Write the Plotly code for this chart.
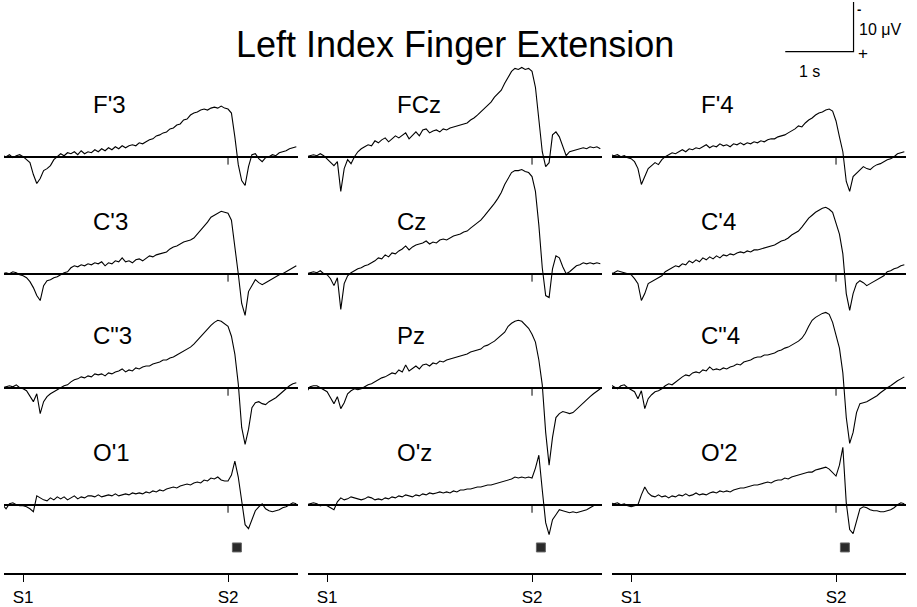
import numpy as np
import plotly.graph_objects as go

# ---------------- data ----------------
# time axis (s), S1 at 0 s, S2 at 3 s
t = np.round(np.arange(-0.30, 4.0001, 0.05), 2)

S1_TIME = 0.0
S2_TIME = 3.0
RESPONSE_TIME = 3.13
stim_ticks = [S1_TIME, S2_TIME]
stim_labels = ["S1", "S2"]

channel_names = [["F'3", "FCz", "F'4"],
                 ["C'3", "Cz", "C'4"],
                 ['C"3', "Pz", 'C"4'],
                 ["O'1", "O'z", "O'2"]]

# amplitudes in microvolts (negative plotted upward)
F3 = [-0.2, 0.0, -0.4, 0.2, -0.2, -0.4,
      0.0, 0.6, 1.2, 3.6, 5.4, 4.4, 2.8, 2.4, 1.8, 0.6, 0.0, -0.6, -0.2, -0.8, -0.6, -1.0, -0.4, -1.2, -0.6, -1.0,
      -0.8, -1.4, -1.0, -1.6, -1.2, -1.8, -1.4, -2.0, -1.6, -2.2, -1.8, -2.2, -2.4, -2.2, -2.8, -2.6, -3.0, -3.4, -3.6, -4.2,
      -4.4, -4.8, -5.0, -5.6, -5.8, -6.4, -6.6, -7.4, -7.6, -8.4, -8.8, -9.0, -9.4, -9.6, -9.4, -9.8, -10.0, -9.8, -10.2, -9.8,
      -9.6, -8.8, -4.0, 1.6, 4.8, 5.8, 2.0, -0.4, -0.6, 0.4, 1.0, 0.2, 0.0, -0.4, -0.2, -0.8, -1.0, -1.2, -1.6, -1.8, -2.0]
FCz = [0.0, -0.2, -0.4, -0.2, -0.6, -0.2,
       0.4, 1.2, 1.8, 1.0, 7.0, 2.4, 0.6, 1.4, 0.0, -1.0, -1.6, -2.0, -2.4, -2.2, -3.2, -2.8, -3.4, -3.8, -3.0, -3.6,
       -4.2, -3.8, -4.4, -4.8, -3.6, -4.4, -5.0, -4.2, -5.4, -5.6, -4.8, -5.2, -5.4, -5.0, -5.6, -5.4, -5.8, -6.0, -6.2, -6.4,
       -6.6, -6.8, -7.4, -7.8, -8.4, -9.0, -9.6, -10.4, -11.0, -12.0, -12.6, -13.4, -14.8, -16.0, -17.2, -17.8, -17.6, -18.0, -17.6, -17.8,
       -17.2, -14.0, -7.0, -1.0, 2.0, 1.2, -4.4, -5.0, -4.0, -2.0, -0.2, -1.0, -1.2, -1.4, -1.6, -1.8, -1.6, -2.0, -1.8, -2.0, -1.6]
F4 = [-0.4, -0.2, -0.4, 0.0, -0.2, 0.2,
      0.4, 1.0, 2.4, 5.6, 4.0, 2.4, 1.8, 1.2, 1.6, 0.6, 0.0, -0.4, -0.8, -0.6, -1.0, -1.4, -1.0, -1.6, -1.4, -1.8,
      -1.6, -2.0, -2.4, -1.8, -2.2, -2.0, -2.6, -2.2, -2.4, -2.0, -2.6, -2.4, -2.8, -2.4, -2.8, -2.6, -3.0, -2.8, -3.2, -3.0,
      -3.4, -3.6, -3.6, -4.0, -4.2, -4.4, -4.8, -5.2, -5.6, -6.2, -6.0, -6.8, -7.4, -7.8, -8.4, -8.8, -9.0, -9.4, -9.6, -9.2,
      -7.2, -4.0, -1.0, 5.0, 7.0, 4.0, 3.4, 2.8, 2.0, 2.4, 2.6, 2.0, 1.6, 1.4, 1.0, 0.6, 0.4, 0.0, -0.6, -0.8, -1.0]
C3 = [0.0, -0.2, 0.0, -0.4, -0.2, 0.2,
      0.4, 0.8, 1.6, 2.8, 4.4, 5.4, 2.4, 1.4, 1.2, 0.8, 0.6, 0.2, -0.2, -0.4, -1.2, -1.6, -1.4, -1.8, -1.6, -2.0,
      -1.8, -2.2, -2.0, -2.4, -1.6, -2.2, -2.0, -2.6, -2.4, -3.2, -2.4, -2.6, -2.2, -2.8, -3.0, -2.6, -3.2, -3.6, -3.4, -3.8,
      -4.0, -4.2, -4.4, -5.0, -5.4, -5.6, -6.0, -6.4, -6.6, -6.8, -7.2, -8.0, -8.8, -9.4, -10.4, -11.4, -11.8, -12.2, -12.6, -12.4,
      -12.2, -10.8, -5.8, 0.0, 6.0, 8.4, 3.6, 2.4, 1.2, 1.8, 2.2, 1.8, 1.4, 1.0, 0.6, 0.2, 0.0, -0.4, -0.8, -1.2, -1.6]
Cz = [0.0, -0.2, -0.4, -0.2, -0.6, 0.0,
      0.2, 1.0, 2.4, 0.8, 7.2, 2.0, 0.4, -0.2, -0.6, -1.0, -1.2, -1.6, -1.8, -2.2, -2.6, -3.2, -3.0, -3.8, -3.4, -4.2,
      -4.0, -4.6, -5.0, -5.6, -4.8, -5.4, -5.8, -6.0, -6.2, -6.6, -6.0, -6.4, -6.2, -6.8, -7.0, -6.8, -7.2, -7.6, -7.8, -8.0,
      -8.4, -8.6, -9.2, -9.8, -10.4, -10.8, -11.6, -12.4, -13.4, -14.2, -15.2, -16.4, -18.0, -19.2, -20.4, -20.8, -20.8, -21.0, -20.6, -20.4,
      -19.6, -16.6, -9.8, -1.2, 4.4, 4.8, -1.0, -3.6, -3.2, -1.4, 0.0, -0.4, -1.0, -1.6, -1.8, -2.2, -2.0, -2.2, -2.0, -2.2, -2.0]
C4 = [0.0, -0.2, -0.6, -0.4, -0.2, 0.0,
      0.2, 1.0, 2.0, 5.4, 4.0, 2.0, 1.6, 1.2, 0.8, 0.4, -0.4, -0.8, -1.2, -1.6, -1.4, -2.0, -1.8, -2.6, -2.2, -2.8,
      -2.4, -3.2, -2.8, -3.4, -3.0, -3.6, -3.2, -3.8, -3.6, -4.0, -3.8, -4.2, -4.4, -4.2, -4.6, -4.4, -4.8, -4.8, -5.0, -5.2,
      -5.4, -5.6, -5.8, -6.2, -6.6, -6.8, -7.2, -7.8, -8.2, -8.6, -9.4, -10.4, -11.2, -11.8, -12.4, -12.8, -13.2, -13.4, -13.0, -12.4,
      -10.4, -8.0, -4.0, 4.0, 7.4, 4.0, 2.0, 1.4, 1.8, 2.4, 2.0, 1.6, 1.2, 0.8, 0.4, -0.4, -0.6, -1.0, -1.2, -1.6, -1.8]
C3pp = [0.0, -0.2, -0.4, -0.2, -0.6, 0.0,
        0.2, 0.6, 1.6, 2.8, 1.2, 5.2, 2.8, 1.8, 1.2, 0.8, 0.4, 0.0, -0.4, -0.6, -1.2, -1.6, -1.8, -2.2, -2.0, -2.4,
        -2.2, -2.8, -2.6, -2.8, -2.4, -3.0, -2.8, -3.2, -3.4, -3.8, -3.2, -3.6, -3.4, -4.0, -3.8, -4.2, -4.4, -4.4, -4.8, -5.0,
        -5.2, -5.6, -5.6, -6.0, -6.2, -6.6, -7.0, -7.4, -7.8, -8.2, -8.8, -9.6, -10.4, -11.2, -12.0, -12.6, -13.2, -13.6, -13.4, -12.8,
        -12.4, -10.4, -6.8, -0.8, 8.0, 11.4, 8.4, 4.0, 3.0, 2.8, 3.2, 3.4, 2.8, 2.4, 2.0, 1.4, 0.8, 0.2, -0.4, -0.8, -1.0]
Pz = [0.8, -0.2, -0.4, -0.4, 0.0, 0.4,
      0.8, 2.0, 3.2, 1.8, 4.2, 3.0, 1.2, 0.6, 0.2, 0.4, 0.2, -0.2, -0.6, -0.8, -1.2, -1.6, -2.0, -2.2, -2.6, -3.0,
      -2.8, -3.6, -3.2, -4.6, -3.4, -4.0, -4.4, -3.8, -4.6, -4.8, -4.4, -5.0, -4.8, -5.4, -5.2, -5.6, -5.8, -6.0, -6.2, -6.4,
      -6.6, -6.8, -7.2, -7.4, -7.6, -7.8, -8.4, -8.6, -9.0, -9.4, -10.0, -10.6, -11.2, -12.4, -13.0, -13.4, -13.6, -13.4, -12.8, -12.0,
      -10.8, -9.2, -5.6, -0.6, 9.0, 15.6, 10.0, 6.0, 5.2, 4.8, 5.0, 5.2, 5.0, 4.4, 3.8, 3.2, 2.4, 1.8, 1.2, 0.6, 0.2]
C4pp = [-0.6, -0.2, 0.2, -0.4, -0.6, 0.0,
        0.4, 0.8, 2.2, 0.6, 4.2, 2.2, 1.4, 0.8, 0.6, 0.2, -0.4, -0.8, -0.6, -1.2, -1.6, -2.2, -2.6, -2.4, -3.0, -3.2,
        -3.0, -3.6, -3.4, -4.2, -3.6, -3.8, -3.6, -4.0, -3.8, -4.2, -4.4, -4.8, -4.6, -5.2, -5.4, -5.6, -6.0, -6.2, -6.2, -6.6,
        -6.6, -6.8, -7.0, -7.4, -7.6, -8.0, -8.2, -8.6, -9.0, -9.4, -10.0, -11.0, -12.4, -13.6, -14.2, -14.6, -15.0, -15.2, -14.8, -13.2,
        -10.8, -8.0, -3.0, 6.0, 11.2, 9.0, 5.0, 3.2, 3.0, 2.8, 2.4, 2.0, 1.6, 1.0, 0.4, 0.0, -0.4, -1.0, -1.4, -1.8, -2.2]
O1 = [0.0, 0.8, -0.2, -0.4, 0.0, 0.2,
      0.2, 0.4, 0.8, 1.4, -1.8, -1.4, -1.0, -0.8, -1.4, -1.0, -1.6, -1.2, -1.6, -1.0, -1.4, -1.8, -1.2, -1.6, -1.4, -1.8,
      -1.8, -1.6, -2.0, -1.6, -1.8, -2.0, -1.8, -2.2, -1.8, -2.0, -2.2, -2.0, -2.4, -2.2, -2.4, -2.2, -2.6, -2.4, -2.8, -2.6,
      -3.0, -2.8, -3.2, -3.4, -3.6, -3.4, -3.8, -4.0, -4.2, -4.0, -4.4, -4.6, -4.4, -5.0, -4.8, -5.4, -5.2, -5.6, -5.0, -4.8,
      -4.8, -6.0, -8.8, -5.6, -0.4, 4.0, 4.8, 3.0, 1.2, 0.4, -0.2, 0.8, 1.2, 1.4, 1.2, 1.0, 0.6, 0.4, 0.0, -0.4, -0.2]
Oz = [0.0, -0.2, -0.4, -0.2, 0.2, 0.0,
      0.2, 0.6, 1.0, -0.6, -1.4, -1.0, -1.2, -1.6, -1.4, -1.2, -1.0, -1.2, -1.6, -1.4, -1.0, -1.2, -1.0, -1.4, -1.2, -1.6,
      -1.4, -1.8, -1.6, -2.0, -1.8, -1.6, -2.0, -1.8, -2.2, -2.0, -2.4, -2.2, -2.4, -2.6, -2.4, -2.6, -2.4, -2.8, -2.6, -3.0,
      -3.0, -3.2, -3.2, -3.4, -3.6, -3.6, -3.8, -4.0, -4.0, -4.2, -4.4, -4.6, -4.8, -5.0, -5.2, -5.6, -5.4, -5.6, -5.4, -5.6,
      -5.4, -7.4, -10.0, -3.0, 3.6, 6.0, 3.0, 2.0, 1.0, 1.2, 1.4, 1.6, 1.4, 1.6, 1.4, 1.2, 1.0, 0.6, 0.2, 0.0, 0.0]
O2 = [-0.4, -0.2, -0.4, 0.0, -0.2, 0.2,
      0.4, 0.2, 0.0, -2.0, -3.6, -2.4, -1.8, -1.6, -2.0, -1.6, -1.8, -1.4, -1.8, -1.6, -2.0, -1.8, -2.2, -1.8, -2.0, -2.4,
      -2.0, -2.2, -2.0, -2.4, -2.6, -2.4, -2.8, -2.6, -2.8, -2.6, -3.0, -3.2, -3.4, -3.4, -3.6, -3.8, -4.0, -4.0, -4.2, -4.4,
      -4.6, -4.4, -4.8, -5.0, -5.0, -5.4, -5.2, -5.6, -5.8, -6.0, -6.2, -6.4, -6.6, -6.6, -7.0, -7.2, -7.4, -7.6, -7.2, -6.6,
      -5.8, -8.0, -11.6, -0.4, 5.0, 5.8, 3.0, 0.8, 0.4, 0.6, 1.0, 1.2, 1.2, 1.4, 1.4, 1.2, 1.0, 0.6, 0.0, -0.4, -0.2]

waves = [[F3, FCz, F4], [C3, Cz, C4], [C3pp, Pz, C4pp], [O1, Oz, O2]]
for row in waves:
    for w in row:
        assert len(w) == len(t), len(w)

SCALE_T = 1.0     # s
SCALE_V = 10.0    # microvolts
TITLE = "Left Index Finger Extension"

# ---------------- layout geometry ----------------
W, H = 917, 607
PX_PER_S = 68.3
PX_PER_UV = 5.0
COL_LEFT = [4, 308, 612]
COL_W = 294
T0 = -0.28
T1 = T0 + COL_W / PX_PER_S
ROW_BASE = [158, 276, 391, 509]
ABOVE, BELOW = 110, 85
FONT = "Liberation Sans, Arial, Helvetica, sans-serif"


def fx(px):
    return px / W


def fy(px):
    return 1 - px / H


fig = go.Figure()
layout = dict(width=W, height=H, margin=dict(l=0, r=0, t=0, b=0),
              paper_bgcolor="white", plot_bgcolor="rgba(0,0,0,0)",
              showlegend=False, font=dict(family=FONT, color="black"))
annotations = []

for r in range(4):
    for c in range(3):
        idx = r * 3 + c + 1
        xa, ya = f"xaxis{idx}", f"yaxis{idx}"
        xr, yr = f"x{idx}", f"y{idx}"
        layout[xa] = dict(domain=[fx(COL_LEFT[c]), fx(COL_LEFT[c] + COL_W)], range=[T0, T1],
                          anchor=yr, showgrid=False, zeroline=False, showticklabels=False,
                          showline=False, ticks="", fixedrange=True)
        layout[ya] = dict(domain=[fy(ROW_BASE[r] + BELOW), fy(ROW_BASE[r] - ABOVE)],
                          range=[BELOW / PX_PER_UV, -ABOVE / PX_PER_UV],
                          anchor=xr, showgrid=False, zeroline=True, zerolinecolor="black",
                          zerolinewidth=1.5, showticklabels=False, showline=False, ticks="",
                          fixedrange=True)
        fig.add_trace(go.Scatter(x=t, y=waves[r][c], mode="lines", xaxis=xr, yaxis=yr,
                                 line=dict(color="black", width=1.1), hoverinfo="skip"))
        # small S2 marker tick on each trace baseline
        fig.add_trace(go.Scatter(x=[S2_TIME, S2_TIME], y=[0, 1.6], mode="lines", xaxis=xr, yaxis=yr,
                                 line=dict(color="black", width=1), hoverinfo="skip"))
        annotations.append(dict(text=channel_names[r][c], xref=xr, yref=yr, x=1.0, y=-10.6,
                                xanchor="left", yanchor="middle", showarrow=False,
                                font=dict(size=24, family=FONT, color="black")))

# stimulus axes at the bottom
for c in range(3):
    idx = 13 + c
    xr, yr = f"x{idx}", f"y{idx}"
    layout[f"xaxis{idx}"] = dict(domain=[fx(COL_LEFT[c]), fx(COL_LEFT[c] + COL_W)], range=[T0, T1],
                                 anchor=yr, showgrid=False, zeroline=False, showline=True,
                                 linecolor="black", linewidth=2, ticks="outside", ticklen=7,
                                 tickwidth=1, tickcolor="black", tickvals=stim_ticks,
                                 ticktext=stim_labels, tickfont=dict(size=17, family=FONT, color="black"),
                                 fixedrange=True)
    layout[f"yaxis{idx}"] = dict(domain=[fy(578), fy(538)], range=[0, 1], anchor=xr, visible=False,
                                 fixedrange=True)
    fig.add_trace(go.Scatter(x=[RESPONSE_TIME], y=[0.65], mode="markers", xaxis=xr, yaxis=yr,
                             marker=dict(symbol="square", size=9, color="#2a2a2a",
                                         line=dict(color="#666", width=1)),
                             hoverinfo="skip"))

# calibration bar (1 s, 10 uV)
idx = 16
xr, yr = f"x{idx}", f"y{idx}"
layout[f"xaxis{idx}"] = dict(domain=[fx(775), fx(870)], range=[0, 95 / PX_PER_S], anchor=yr,
                             visible=False, fixedrange=True)
layout[f"yaxis{idx}"] = dict(domain=[fy(62), fy(0)], range=[10 / PX_PER_UV, -52 / PX_PER_UV],
                             anchor=xr, visible=False, fixedrange=True)
bar_x0 = 0.15
fig.add_trace(go.Scatter(x=[bar_x0, bar_x0 + SCALE_T, bar_x0 + SCALE_T],
                         y=[0, 0, -SCALE_V], mode="lines", xaxis=xr, yaxis=yr,
                         line=dict(color="black", width=1.2), hoverinfo="skip"))
annotations += [
    dict(text="1 s", xref="paper", yref="paper", x=fx(809), y=fy(72), xanchor="center",
         yanchor="middle", showarrow=False, font=dict(size=16, family=FONT)),
    dict(text="10 \u03bcV", xref="paper", yref="paper", x=fx(857), y=fy(30), xanchor="left",
         yanchor="middle", showarrow=False, font=dict(size=16, family=FONT)),
    dict(text="<b>-</b>", xref="paper", yref="paper", x=fx(855), y=1.0, xanchor="left",
         yanchor="top", showarrow=False, font=dict(size=13, family=FONT)),
    dict(text="+", xref="paper", yref="paper", x=fx(856), y=fy(54), xanchor="left",
         yanchor="middle", showarrow=False, font=dict(size=17, family=FONT)),
]

annotations.append(dict(text=TITLE, xref="paper", yref="paper", x=fx(455), y=fy(45),
                        xanchor="center", yanchor="middle", showarrow=False,
                        font=dict(size=36, family=FONT, color="black")))

layout["annotations"] = annotations
fig.update_layout(**layout)
fig.write_html("out.html")
